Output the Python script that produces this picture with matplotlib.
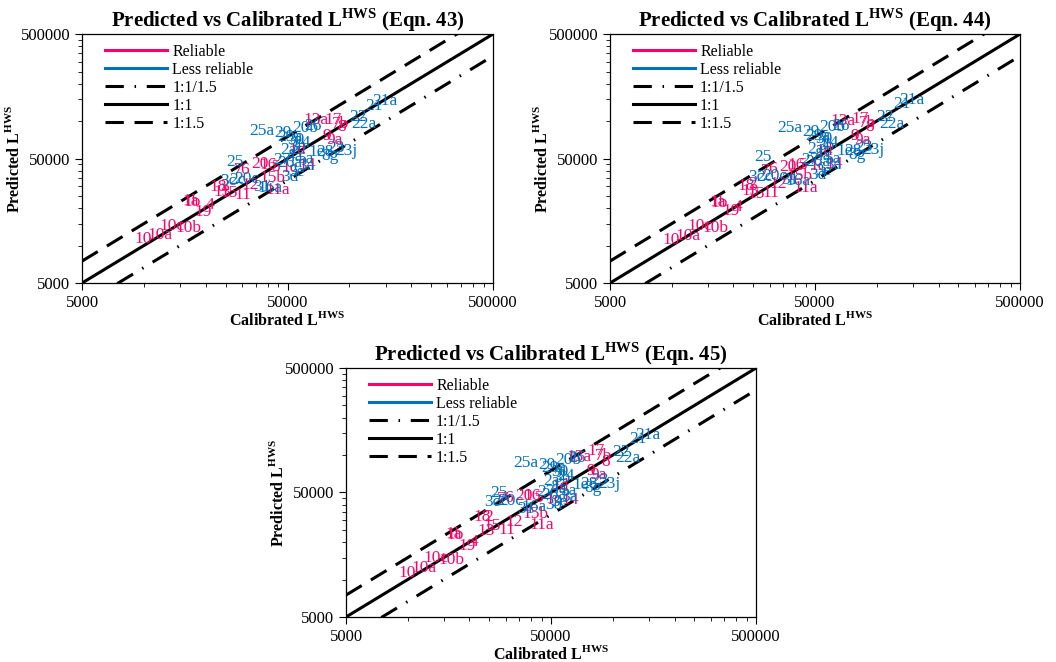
import matplotlib.pyplot as plt
from matplotlib.lines import Line2D
import numpy as np

plt.rcParams['font.family'] = ['Liberation Serif', 'DejaVu Serif']
plt.rcParams['mathtext.fontset'] = 'custom'
plt.rcParams['mathtext.rm'] = 'Liberation Serif'
plt.rcParams['mathtext.bf'] = 'Liberation Serif:bold'

PINK = '#FF0066'
BLUE = '#0070C0'

# ---------- data ----------
labels = ["10", "10a", "10c", "10b", "1a", "1b", "19", "4", "18", "2", "13", "15",
          "11", "12", "11a", "7", "6", "20", "16", "5", "14", "1c", "13a", "17",
          "7b", "8", "9", "9a", "1d", "15b",
          "25a", "29", "29a", "20b", "26", "30", "24", "3b", "2a", "4a", "5a",
          "21", "21a", "22", "22a", "23", "23j", "28", "8g", "1e", "25", "3c",
          "2c", "20c", "31", "16a", "3d", "3e", "3a", "27", "26a"]
reliable = [True] * 30 + [False] * 31

calibrated = [9900, 12000, 13700, 16400, 16800, 17100, 19400, 21000, 23000, 24800, 24000, 25900,
              30400, 32900, 45000, 28700, 31000, 36700, 40200, 43900, 62000, 51400, 68800, 83200,
              90000, 92000, 77800, 85100, 55600, 42000,
              37600, 47500, 51400, 60800, 66500, 54900, 58900, 56200, 50300, 54300, 61500,
              132000, 149000, 110000, 118000, 86100, 96300, 76100, 80500, 69600, 27800, 25700,
              28400, 31800, 37600, 41100, 51400, 54900, 61500, 47000, 51400]

pred_43 = [11300, 12200, 14400, 13800, 22800, 22400, 18600, 21200, 29500, 30000, 26900, 26400,
           25500, 30500, 27900, 40400, 40400, 45200, 44300, 42700, 44000, 42000, 102000, 102000,
           94600, 89600, 75900, 70400, 58500, 35000,
           83200, 80200, 74400, 87900, 91200, 70400, 66600, 61800, 58500, 51400, 49500,
           132000, 145000, 108000, 94600, 60700, 57400, 56300, 52300, 56300, 46900, 33000,
           33600, 34200, 29500, 29000, 35500, 38900, 43500, 48600, 46000]

pred_44 = [11000, 12000, 14400, 13900, 22500, 22000, 18900, 20500, 30000, 31000, 27500, 26000,
           26400, 31000, 29000, 40000, 41500, 43000, 44500, 44000, 45000, 43500, 100000, 104000,
           96000, 90000, 76000, 71000, 57000, 36000,
           88000, 82000, 76000, 90000, 92000, 72000, 67000, 63000, 60000, 52000, 50000,
           136000, 147000, 108000, 95000, 62000, 58000, 57000, 53000, 57500, 51000, 35500,
           35500, 36000, 33600, 33000, 37000, 40000, 44500, 49000, 47000]

pred_45 = [11300, 12400, 14800, 14300, 23000, 22600, 18700, 20000, 32000, 31500, 24500, 27000,
           25000, 29000, 27500, 44000, 45000, 46500, 47000, 45500, 43500, 44500, 97000, 108000,
           99000, 88000, 74000, 69000, 56000, 33500,
           86000, 83000, 78000, 92000, 95000, 73000, 68000, 65000, 62000, 53000, 51000,
           134000, 146000, 106000, 94000, 63000, 58500, 58000, 54000, 57000, 49500, 42000,
           42500, 43000, 37000, 38000, 40000, 42000, 46000, 50000, 48000]

equations = ["43", "44", "45"]
predictions = [pred_43, pred_44, pred_45]

major_ticks = [5000, 50000, 500000]
minor_ticks = list(range(10000, 50000, 5000)) + list(range(100000, 500000, 50000))

fig = plt.figure(figsize=(10.56, 6.62), dpi=100)
positions = [
    [0.0777, 0.5725, 0.3892, 0.3761],
    [0.5777, 0.5725, 0.3883, 0.3761],
    [0.3277, 0.0680, 0.3883, 0.3761],
]

line_x = np.array([5000, 500000])

for pos, eqn, pred in zip(positions, equations, predictions):
    ax = fig.add_axes(pos)
    ax.set_xscale('log')
    ax.set_yscale('log')

    # reference lines
    ax.plot(line_x, line_x / 1.5, color='black', lw=2.2, dashes=(6, 3.5, 0.5, 3.5))
    ax.plot(line_x, line_x, color='black', lw=2.2)
    ax.plot(line_x, line_x * 1.5, color='black', lw=2.2, dashes=(6, 3.5))

    # point labels (no markers, only text)
    for lab, rel, cx, py in zip(labels, reliable, calibrated, pred):
        ax.text(cx, py, lab, color=PINK if rel else BLUE, fontsize=12.5,
                ha='center', va='center', clip_on=True)

    ax.set_xlim(5000, 500000)
    ax.set_ylim(5000, 500000)
    ax.set_xticks(major_ticks)
    ax.set_yticks(major_ticks)
    ax.set_xticklabels([str(t) for t in major_ticks])
    ax.set_yticklabels([str(t) for t in major_ticks])
    ax.set_xticks(minor_ticks, minor=True)
    ax.set_yticks(minor_ticks, minor=True)
    ax.set_xticklabels([], minor=True)
    ax.set_yticklabels([], minor=True)
    ax.tick_params(which='major', direction='out', length=5, width=0.8, labelsize=12)
    ax.tick_params(which='minor', direction='out', length=3, width=0.6)
    for sp in ax.spines.values():
        sp.set_linewidth(0.9)

    ax.set_title(r'Predicted vs Calibrated L$^{\mathbf{HWS}}$ (Eqn. ' + eqn + ')',
                 fontsize=15, fontweight='bold', pad=5)
    ax.set_xlabel(r'Calibrated L$^{\mathbf{HWS}}$', fontsize=11.5, fontweight='bold', labelpad=0)
    ax.set_ylabel(r'Predicted L$^{\mathbf{HWS}}$', fontsize=11.5, fontweight='bold', labelpad=-2)

    handles = [
        Line2D([], [], color=PINK, lw=2.2),
        Line2D([], [], color=BLUE, lw=2.2),
        Line2D([], [], color='black', lw=2.2, dashes=(6, 3.5, 0.5, 3.5)),
        Line2D([], [], color='black', lw=2.2),
        Line2D([], [], color='black', lw=2.2, dashes=(6, 3.5)),
    ]
    ax.legend(handles, ["Reliable", "Less reliable", "1:1/1.5", "1:1", "1:1.5"],
              loc='upper left', bbox_to_anchor=(0.056, 0.96), frameon=False,
              fontsize=11.5, handlelength=3.9, handletextpad=0.3,
              labelspacing=0.12, borderpad=0, borderaxespad=0)

fig.savefig('out.png', dpi=100)
